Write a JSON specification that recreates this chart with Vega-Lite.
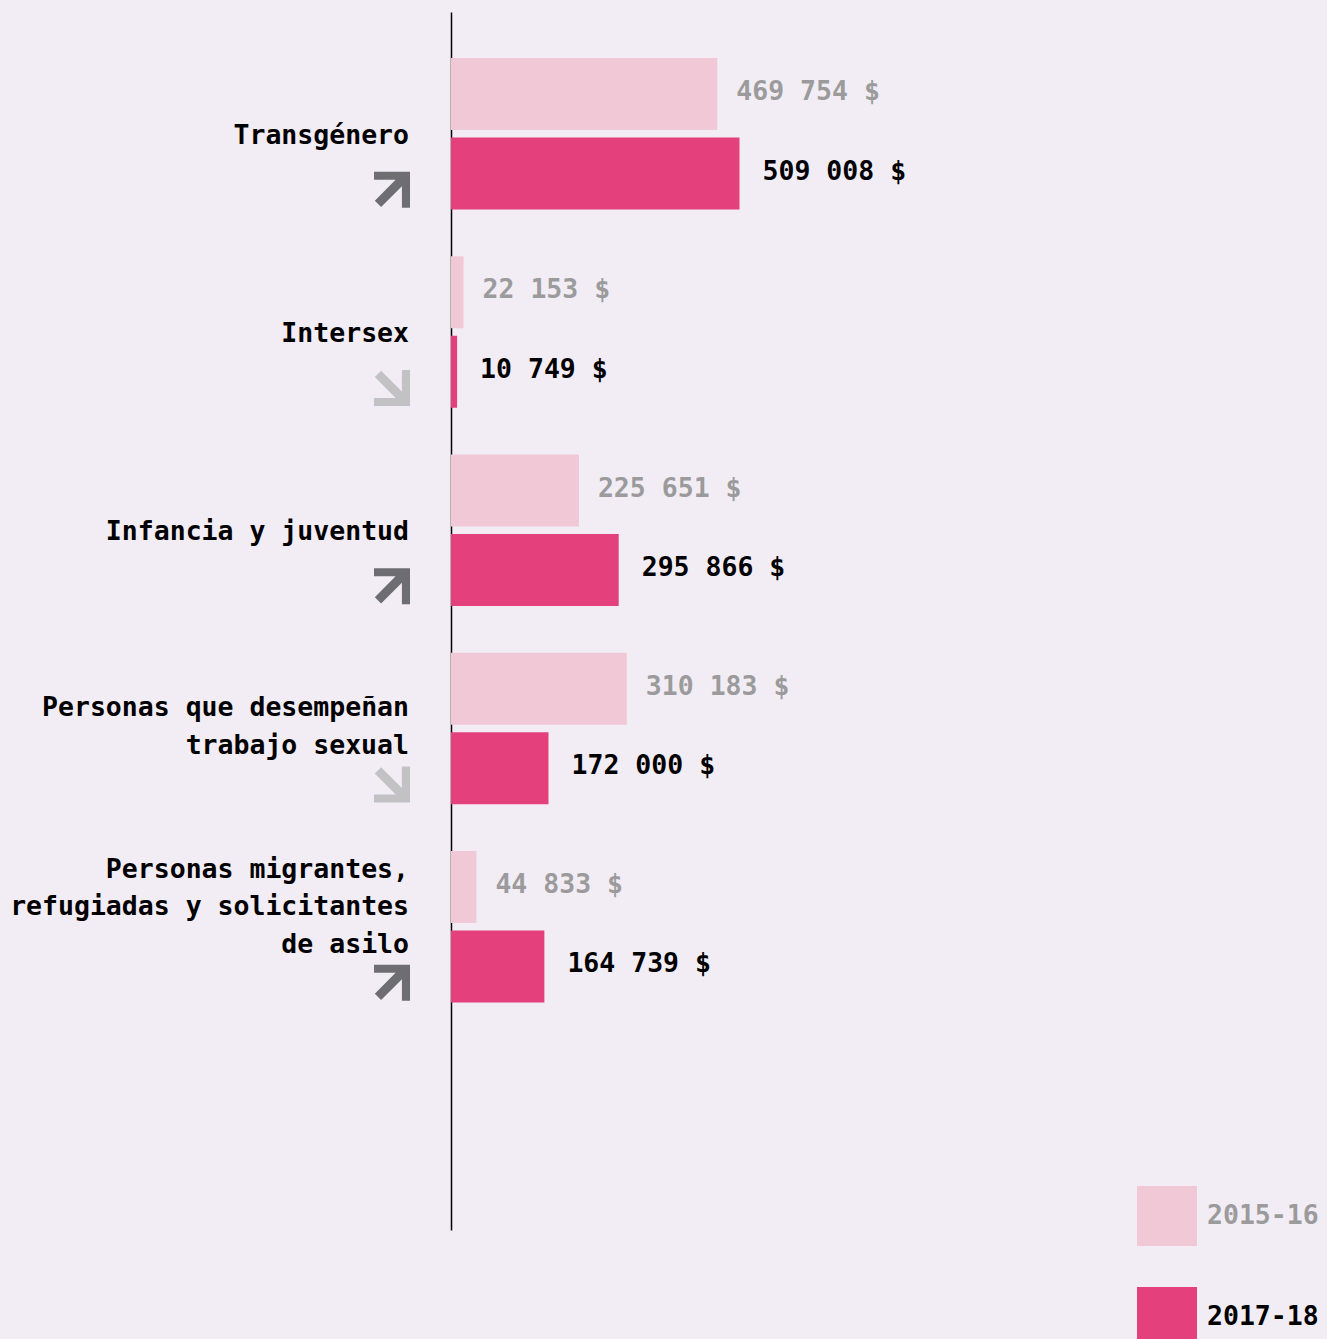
{
  "$schema": "https://vega.github.io/schema/vega-lite/v6.json",
  "width": 876,
  "height": 1218,
  "autosize": {"type": "none"},
  "padding": {"left": 451, "top": 12, "right": 0, "bottom": 109},
  "background": "#f2edf5",
  "config": {
    "view": {"stroke": null},
    "font": "DejaVu Sans Mono",
    "locale": {"number": {"decimal": ",", "thousands": " ", "grouping": [3], "currency": ["", " $"]}}
  },
  "datasets": {
    "bars": [
      {"category": "Transgénero", "year": "2015-16", "value": 469754},
      {"category": "Transgénero", "year": "2017-18", "value": 509008},
      {"category": "Intersex", "year": "2015-16", "value": 22153},
      {"category": "Intersex", "year": "2017-18", "value": 10749},
      {"category": "Infancia y juventud", "year": "2015-16", "value": 225651},
      {"category": "Infancia y juventud", "year": "2017-18", "value": 295866},
      {"category": "Personas que desempeñan trabajo sexual", "year": "2015-16", "value": 310183},
      {"category": "Personas que desempeñan trabajo sexual", "year": "2017-18", "value": 172000},
      {"category": "Personas migrantes, refugiadas y solicitantes de asilo", "year": "2015-16", "value": 44833},
      {"category": "Personas migrantes, refugiadas y solicitantes de asilo", "year": "2017-18", "value": 164739}
    ],
    "cats": [
      {"category": "Transgénero", "label": "Transgénero", "lines": 1, "trend": "up"},
      {"category": "Intersex", "label": "Intersex", "lines": 1, "trend": "down"},
      {"category": "Infancia y juventud", "label": "Infancia y juventud", "lines": 1, "trend": "up"},
      {"category": "Personas que desempeñan trabajo sexual", "label": "Personas que desempeñan\ntrabajo sexual", "lines": 2, "trend": "down"},
      {"category": "Personas migrantes, refugiadas y solicitantes de asilo", "label": "Personas migrantes,\nrefugiadas y solicitantes\nde asilo", "lines": 3, "trend": "up"}
    ]
  },
  "layer": [
    {
      "data": {"name": "bars"},
      "mark": {"type": "bar"},
      "encoding": {
        "y": {
          "field": "category", "type": "nominal",
          "scale": {
            "domain": ["Transgénero", "Intersex", "Infancia y juventud", "Personas que desempeñan trabajo sexual", "Personas migrantes, refugiadas y solicitantes de asilo"],
            "paddingInner": 0.2358, "paddingOuter": 0.6898, "align": 0.1682, "round": false
          },
          "axis": {"title": null, "labels": false, "ticks": false, "domainColor": "#000000", "domainWidth": 1.5, "grid": false}
        },
        "yOffset": {"field": "year", "type": "nominal", "scale": {"domain": ["2015-16", "2017-18"], "paddingInner": 0.0943, "paddingOuter": 0}},
        "x": {"field": "value", "type": "quantitative", "scale": {"domain": [0, 1545500], "nice": false}, "axis": null},
        "color": {
          "field": "year", "type": "nominal",
          "scale": {"domain": ["2015-16", "2017-18"], "range": ["#f0c8d6", "#e4407c"]},
          "legend": {
            "title": null, "orient": "none", "legendX": 686, "legendY": 1174,
            "symbolType": "square", "symbolSize": 3600, "symbolStrokeWidth": 0, "symbolOpacity": 1,
            "labelFont": "DejaVu Sans Mono", "labelFontSize": 26.5, "labelFontWeight": "bold",
            "labelColor": {"expr": "datum.label == '2015-16' ? '#9b9b9b' : '#000000'"},
            "labelOffset": 10, "rowPadding": 41, "padding": 0, "direction": "vertical"
          }
        }
      }
    },
    {
      "data": {"name": "bars"},
      "transform": [{"filter": "datum.year == '2015-16'"}],
      "mark": {"type": "text", "align": "left", "baseline": "middle", "dx": 19, "dy": -2, "fontSize": 26.5, "fontWeight": "bold", "color": "#9b9b9b"},
      "encoding": {
        "y": {"field": "category", "type": "nominal"},
        "yOffset": {"field": "year", "type": "nominal"},
        "x": {"field": "value", "type": "quantitative"},
        "text": {"field": "value", "type": "quantitative", "format": "$,.0f"}
      }
    },
    {
      "data": {"name": "bars"},
      "transform": [{"filter": "datum.year == '2017-18'"}],
      "mark": {"type": "text", "align": "left", "baseline": "middle", "dx": 23, "dy": -2, "fontSize": 26.5, "fontWeight": "bold", "color": "#000000"},
      "encoding": {
        "y": {"field": "category", "type": "nominal"},
        "yOffset": {"field": "year", "type": "nominal"},
        "x": {"field": "value", "type": "quantitative"},
        "text": {"field": "value", "type": "quantitative", "format": "$,.0f"}
      }
    },
    {
      "data": {"name": "cats"},
      "transform": [{"filter": "datum.lines == 1"}],
      "mark": {"type": "text", "align": "right", "baseline": "middle", "dx": -42, "dy": 2, "fontSize": 26.5, "fontWeight": "bold", "color": "#000000", "lineBreak": "\n", "lineHeight": 38},
      "encoding": {
        "y": {"field": "category", "type": "nominal"},
        "x": {"datum": 0, "type": "quantitative"},
        "text": {"field": "label"}
      }
    },
    {
      "data": {"name": "cats"},
      "transform": [{"filter": "datum.lines == 2"}],
      "mark": {"type": "text", "align": "right", "baseline": "middle", "dx": -42, "dy": -21, "fontSize": 26.5, "fontWeight": "bold", "color": "#000000", "lineBreak": "\n", "lineHeight": 38},
      "encoding": {
        "y": {"field": "category", "type": "nominal"},
        "x": {"datum": 0, "type": "quantitative"},
        "text": {"field": "label"}
      }
    },
    {
      "data": {"name": "cats"},
      "transform": [{"filter": "datum.lines == 3"}],
      "mark": {"type": "text", "align": "right", "baseline": "middle", "dx": -42, "dy": -57, "fontSize": 26.5, "fontWeight": "bold", "color": "#000000", "lineBreak": "\n", "lineHeight": 37.5},
      "encoding": {
        "y": {"field": "category", "type": "nominal"},
        "x": {"datum": 0, "type": "quantitative"},
        "text": {"field": "label"}
      }
    },
    {
      "data": {"name": "cats"},
      "transform": [{"filter": "datum.trend == 'up'"}],
      "mark": {"type": "point", "filled": true, "opacity": 1, "size": 1296, "color": "#6e6e72", "strokeWidth": 0, "xOffset": -59, "yOffset": 56,
        "shape": "M -1 -1 L 1 -1 L 1 1 L 0.55 1 L 0.55 -0.2 L -0.605 0.955 L -0.955 0.605 L 0.2 -0.55 L -1 -0.55 Z"},
      "encoding": {
        "y": {"field": "category", "type": "nominal"},
        "x": {"datum": 0, "type": "quantitative"}
      }
    },
    {
      "data": {"name": "cats"},
      "transform": [{"filter": "datum.trend == 'down'"}],
      "mark": {"type": "point", "filled": true, "opacity": 1, "size": 1296, "color": "#c2c2c5", "strokeWidth": 0, "xOffset": -59, "yOffset": 56,
        "shape": "M -1 1 L 1 1 L 1 -1 L 0.55 -1 L 0.55 0.2 L -0.605 -0.955 L -0.955 -0.605 L 0.2 0.55 L -1 0.55 Z"},
      "encoding": {
        "y": {"field": "category", "type": "nominal"},
        "x": {"datum": 0, "type": "quantitative"}
      }
    }
  ]
}
